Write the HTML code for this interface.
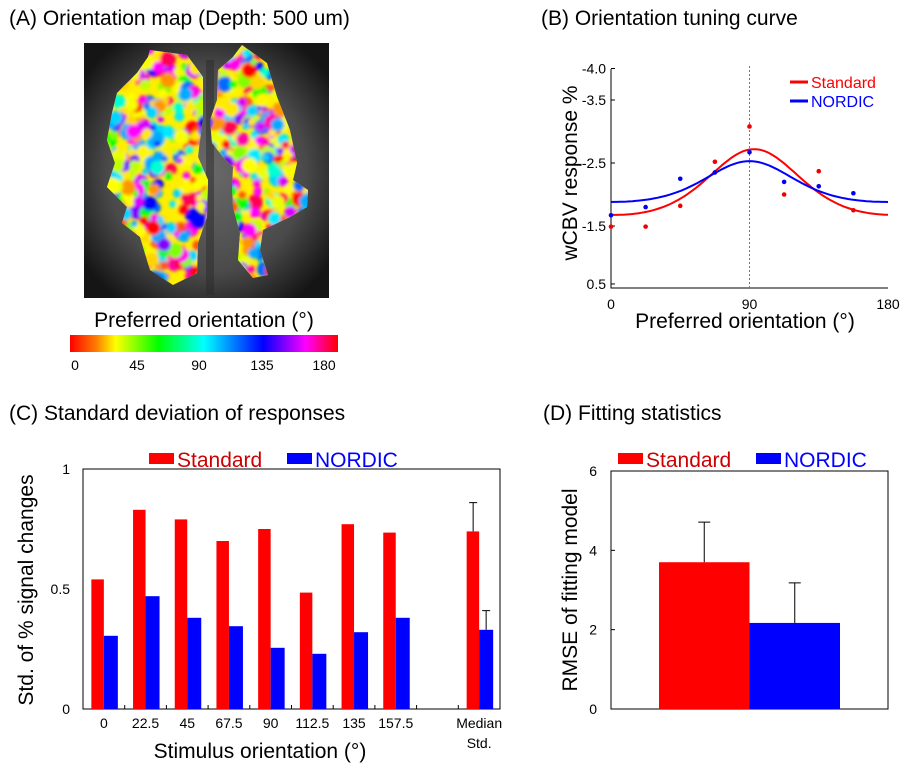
<!DOCTYPE html>
<html><head><meta charset="utf-8">
<style>
html,body{margin:0;padding:0;background:#fff;}
svg{display:block;font-family:"Liberation Sans",Arial,sans-serif;}
</style></head>
<body>
<svg id="fig" width="906" height="768" viewBox="0 0 906 768" xmlns="http://www.w3.org/2000/svg">
<defs>
<linearGradient id="cbar" x1="0" x2="1" y1="0" y2="0">
<stop offset="0" stop-color="#ff0000"/><stop offset="0.1" stop-color="#ff8000"/><stop offset="0.17" stop-color="#ffff00"/>
<stop offset="0.33" stop-color="#00ff00"/><stop offset="0.5" stop-color="#00ffff"/><stop offset="0.72" stop-color="#0000ff"/>
<stop offset="0.88" stop-color="#ff00ff"/><stop offset="1" stop-color="#ff0000"/>
</linearGradient>
<radialGradient id="brain" cx="0.5" cy="0.5" r="0.62">
<stop offset="0" stop-color="#6a6a6a"/><stop offset="0.65" stop-color="#4a4a4a"/><stop offset="1" stop-color="#151515"/>
</radialGradient>
<clipPath id="blobs">
<polygon points="150,50 187,55 203,77 203,117 198,157 208,180 207,217 198,243 197,273 173,285 150,270 140,237 122,223 127,207 107,187 115,163 107,140 112,113 117,93 137,73 148,57"/>
<polygon points="242,45 267,63 277,97 290,130 297,163 293,180 308,190 307,207 290,217 263,230 260,250 268,275 253,278 238,260 240,233 233,207 232,187 233,167 223,157 212,143 210,120 217,100 218,70 233,57"/>
</clipPath>
<filter id="soft"><feGaussianBlur stdDeviation="1.6"/></filter>
</defs>

<text x="9" y="25" font-size="21">(A) Orientation map (Depth: 500 um)</text>
<rect x="84" y="43" width="245" height="255" fill="url(#brain)"/>
<rect x="206" y="60" width="8" height="235" fill="#2a2a2a" opacity="0.5"/>
<g id="mapg" clip-path="url(#blobs)">
<rect x="100" y="40" width="215" height="250" fill="#ffee00"/>
<g id="mapspots" filter="url(#soft)"></g>
</g>
<text x="204" y="327" font-size="21" text-anchor="middle">Preferred orientation (°)</text>
<rect x="70" y="335" width="268" height="17" fill="url(#cbar)"/>
<g font-size="14" text-anchor="middle">
<text x="75" y="370">0</text><text x="137" y="370">45</text><text x="199" y="370">90</text><text x="262" y="370">135</text><text x="324" y="370">180</text>
</g>

<text x="541" y="25" font-size="21">(B) Orientation tuning curve</text>
<g id="panelB"></g>

<text x="9" y="420" font-size="21">(C) Standard deviation of responses</text>
<g id="panelC"></g>

<text x="543" y="420" font-size="21">(D) Fitting statistics</text>
<g id="panelD"></g>
</svg>

<script>
// ---------- Panel B data ----------
const bOrient = [0, 22.5, 45, 67.5, 90, 112.5, 135, 157.5];
const bStandard = [-1.49, -1.49, -1.82, -2.52, -3.08, -2.0, -2.37, -1.75];
const bNordic = [-1.67, -1.80, -2.25, -2.35, -2.67, -2.2, -2.13, -2.02];
const bFitStandard = [-1.47, -1.25, 93, 0.9]; // baseline, amplitude, centre, concentration
const bFitNordic = [-1.78, -0.75, 90, 1.0];
const bYTicks = [-4, -3.5, -2.5, -1.5, -0.58];
const bYTickLabels = ["-4.0", "-3.5", "-2.5", "-1.5", "0.5"];
const bXTicks = [0, 90, 180];

// ---------- Panel C data ----------
const cCategories = ["0", "22.5", "45", "67.5", "90", "112.5", "135", "157.5", "", "Median"];
const cStandard = [0.54, 0.83, 0.79, 0.70, 0.75, 0.485, 0.77, 0.735, null, 0.74];
const cNordic = [0.305, 0.47, 0.38, 0.345, 0.255, 0.23, 0.32, 0.38, null, 0.33];
const cErrStandard = [null, null, null, null, null, null, null, null, null, 0.86];
const cErrNordic = [null, null, null, null, null, null, null, null, null, 0.41];
const cYTicks = [0, 0.5, 1];
const cYTickLabels = ["0", "0.5", "1"];

// ---------- Panel D data ----------
const dGroups = ["Standard", "NORDIC"];
const dValues = [3.7, 2.17];
const dErrTop = [4.71, 3.18];
const dYTicks = [0, 2, 4, 6];

const NS = "http://www.w3.org/2000/svg";
function mk(parent, tag, attrs, txt) {
  const e = document.createElementNS(NS, tag);
  for (const k in attrs) e.setAttribute(k, attrs[k]);
  if (txt !== undefined) e.textContent = txt;
  parent.appendChild(e);
  return e;
}

// ---------- orientation map spots (deterministic texture) ----------
(function () {
  const g = document.getElementById('mapspots');
  let s = 12345;
  function rnd() { s = (s * 1103515245 + 12345) % 2147483648; return s / 2147483648; }
  const hues = [0, 20, 35, 55, 58, 60, 62, 75, 90, 120, 170, 185, 200, 215, 240, 270, 290, 305, 320, 340, 50, 65, 190, 300];
  for (let i = 0; i < 900; i++) {
    const x = 100 + rnd() * 215, y = 42 + rnd() * 245;
    const h = hues[Math.floor(rnd() * hues.length)];
    const c = mk(g, 'circle', { cx: x.toFixed(1), cy: y.toFixed(1), r: (3 + rnd() * 5).toFixed(1), fill: 'hsl(' + h + ',100%,50%)' });
    
    
  }
})();

// ---------- Panel B ----------
(function () {
  const g = document.getElementById('panelB');
  const x0 = 611, x1 = 888, yTop = 69, yBot = 288;
  const xs = v => x0 + (v / 180) * (x1 - x0);
  const ys = v => 163 + (v + 2.5) * 63; // -2.5 at 163, more negative = higher
  const ax = mk(g, 'path', { d: `M${x0},${yTop} V${yBot} H${x1}`, stroke: '#000', fill: 'none', 'stroke-width': 1 });
  
  
  bYTicks.forEach((t, i) => {
    const y = ys(t);
    const tk = mk(g, 'line', { x1: x0, x2: x0 + 4, y1: y, y2: y, stroke: '#000' });
    
    
    const lb = mk(g, 'text', { x: x0 - 5, y: y + 5, 'font-size': 14, 'text-anchor': 'end' }, bYTickLabels[i]);
    
    
  });
  bXTicks.forEach(t => {
    const lb = mk(g, 'text', { x: xs(t), y: 309, 'font-size': 14, 'text-anchor': 'middle' }, String(t));
    
    
  });
  const vl = mk(g, 'line', { x1: xs(90), x2: xs(90), y1: yTop - 3, y2: yBot, stroke: '#777', 'stroke-dasharray': '2,2' });
  
  
  const yl = mk(g, 'text', { x: 0, y: 0, 'font-size': 21, 'text-anchor': 'middle', transform: 'translate(577,173) rotate(-90)' }, 'wCBV response %');
  
  
  const xl = mk(g, 'text', { x: 745, y: 328, 'font-size': 21, 'text-anchor': 'middle' }, 'Preferred orientation (°)');
  
  
  function curve(p, color, name) {
    let d = '';
    for (let th = 0; th <= 180; th += 2) {
      const v = p[0] + p[1] * Math.exp(p[3] * (Math.cos(2 * (th - p[2]) * Math.PI / 180) - 1));
      d += (th === 0 ? 'M' : 'L') + xs(th).toFixed(1) + ',' + ys(v).toFixed(1);
    }
    const c = mk(g, 'path', { d: d, stroke: color, fill: 'none', 'stroke-width': 2 });
    
    
  }
  curve(bFitStandard, '#ff0000', 'standard-fit-curve');
  curve(bFitNordic, '#0000ff', 'nordic-fit-curve');
  bOrient.forEach((o, i) => {
    const a = mk(g, 'circle', { cx: xs(o), cy: ys(bStandard[i]), r: 2.3, fill: '#ee0000' });
    
    
    const b = mk(g, 'circle', { cx: xs(o), cy: ys(bNordic[i]), r: 2.3, fill: '#0000ee' });
    
    
  });
  const l1 = mk(g, 'line', { x1: 790, x2: 808, y1: 82, y2: 82, stroke: '#ff0000', 'stroke-width': 3 });
  
  
  const t1 = mk(g, 'text', { x: 811, y: 88, 'font-size': 16, fill: '#ff0000' }, 'Standard');
  
  
  const l2 = mk(g, 'line', { x1: 790, x2: 808, y1: 101, y2: 101, stroke: '#0000ff', 'stroke-width': 3 });
  
  
  const t2 = mk(g, 'text', { x: 811, y: 107, 'font-size': 16, fill: '#0000ff' }, 'NORDIC');
  
  
})();

// ---------- Panel C ----------
(function () {
  const g = document.getElementById('panelC');
  const x0 = 83, x1 = 500, yTop = 469, yBot = 709;
  const slot = (x1 - x0) / cCategories.length;
  const ys = v => yBot - v * (yBot - yTop);
  const fr = mk(g, 'rect', { x: x0, y: yTop, width: x1 - x0, height: yBot - yTop, fill: 'none', stroke: '#000' });
  
  
  cYTicks.forEach((t, i) => {
    const lb = mk(g, 'text', { x: x0 - 13, y: ys(t) + 5, 'font-size': 14, 'text-anchor': 'end' }, cYTickLabels[i]);
    
    
  });
  for (let i = 1; i < cCategories.length; i++) {
    const tk = mk(g, 'line', { x1: x0 + slot * i, x2: x0 + slot * i, y1: yBot, y2: yBot - 4, stroke: '#000' });
    
    
  }
  cCategories.forEach((c, i) => {
    const cx = x0 + slot * (i + 0.5);
    if (cStandard[i] !== null) {
      const r = mk(g, 'rect', { x: cx - 12.5, y: ys(cStandard[i]), width: 12.5, height: yBot - ys(cStandard[i]), fill: '#ff0000' });
      
      
    }
    if (cNordic[i] !== null) {
      const b = mk(g, 'rect', { x: cx, y: ys(cNordic[i]), width: 14, height: yBot - ys(cNordic[i]), fill: '#0000ff' });
      
      
    }
    if (cErrStandard[i] !== null) {
      const e = mk(g, 'path', { d: `M${cx - 6},${ys(cStandard[i])} V${ys(cErrStandard[i])} M${cx - 10},${ys(cErrStandard[i])} H${cx - 2}`, stroke: '#000', fill: 'none' });
      
      
    }
    if (cErrNordic[i] !== null) {
      const e = mk(g, 'path', { d: `M${cx + 7},${ys(cNordic[i])} V${ys(cErrNordic[i])} M${cx + 3},${ys(cErrNordic[i])} H${cx + 11}`, stroke: '#000', fill: 'none' });
      
      
    }
    if (c === 'Median') {
      const a = mk(g, 'text', { x: cx, y: 728, 'font-size': 14, 'text-anchor': 'middle' }, 'Median');
      
      
      const b = mk(g, 'text', { x: cx, y: 748, 'font-size': 14, 'text-anchor': 'middle' }, 'Std.');
      
      
    } else if (c) {
      const a = mk(g, 'text', { x: cx, y: 728, 'font-size': 14, 'text-anchor': 'middle' }, c);
      
      
    }
  });
  const yl = mk(g, 'text', { x: 0, y: 0, 'font-size': 21, 'text-anchor': 'middle', transform: 'translate(33,590) rotate(-90)' }, 'Std. of % signal changes');
  
  
  const xl = mk(g, 'text', { x: 260, y: 758, 'font-size': 21, 'text-anchor': 'middle' }, 'Stimulus orientation (°)');
  
  
  const s1 = mk(g, 'rect', { x: 149, y: 453, width: 25, height: 11, fill: '#ff0000' });
  
  
  const t1 = mk(g, 'text', { x: 177, y: 467, 'font-size': 21, fill: '#cc0000' }, 'Standard');
  
  
  const s2 = mk(g, 'rect', { x: 287, y: 453, width: 25, height: 11, fill: '#0000ff' });
  
  
  const t2 = mk(g, 'text', { x: 315, y: 467, 'font-size': 21, fill: '#0000ff' }, 'NORDIC');
  
  
})();

// ---------- Panel D ----------
(function () {
  const g = document.getElementById('panelD');
  const x0 = 611, x1 = 888, yTop = 471, yBot = 709;
  const ys = v => yBot - (v / 6) * (yBot - yTop);
  const fr = mk(g, 'rect', { x: x0, y: yTop, width: x1 - x0, height: yBot - yTop, fill: 'none', stroke: '#000' });
  
  
  dYTicks.forEach(t => {
    const tk = mk(g, 'line', { x1: x0, x2: x0 + 4, y1: ys(t), y2: ys(t), stroke: '#000' });
    
    
    const lb = mk(g, 'text', { x: x0 - 14, y: ys(t) + 5, 'font-size': 14, 'text-anchor': 'end' }, String(t));
    
    
  });
  const colors = ['#ff0000', '#0000ff'];
  const barW = 90.5, start = 659;
  dGroups.forEach((gName, i) => {
    const bx = start + i * barW;
    const r = mk(g, 'rect', { x: bx, y: ys(dValues[i]), width: barW, height: yBot - ys(dValues[i]), fill: colors[i] });
    
    
    const cx = bx + barW * 0.5;
    const e = mk(g, 'path', { d: `M${cx},${ys(dValues[i])} V${ys(dErrTop[i])} M${cx - 6},${ys(dErrTop[i])} H${cx + 6}`, stroke: '#000', fill: 'none' });
    
    
  });
  const yl = mk(g, 'text', { x: 0, y: 0, 'font-size': 21, 'text-anchor': 'middle', transform: 'translate(577,590) rotate(-90)' }, 'RMSE of fitting model');
  
  
  const s1 = mk(g, 'rect', { x: 618, y: 453, width: 25, height: 11, fill: '#ff0000' });
  
  
  const t1 = mk(g, 'text', { x: 646, y: 467, 'font-size': 21, fill: '#cc0000' }, 'Standard');
  
  
  const s2 = mk(g, 'rect', { x: 756, y: 453, width: 25, height: 11, fill: '#0000ff' });
  
  
  const t2 = mk(g, 'text', { x: 784, y: 467, 'font-size': 21, fill: '#0000ff' }, 'NORDIC');
  
  
})();
</script>
</body></html>
